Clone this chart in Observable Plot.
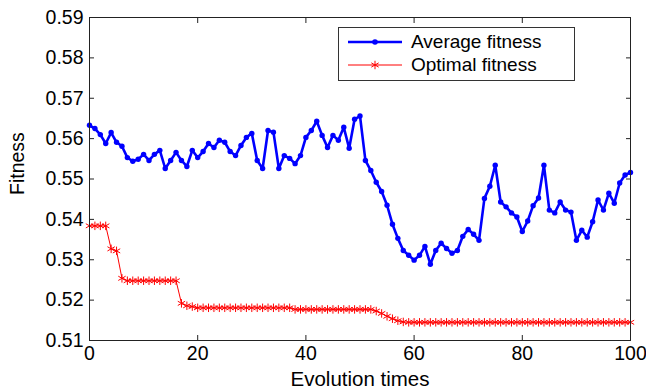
<!DOCTYPE html>
<html><head><meta charset="utf-8">
<script src="https://cdn.jsdelivr.net/npm/d3@7"></script>
<script src="https://cdn.jsdelivr.net/npm/@observablehq/plot@0.6"></script>
<style>
body{margin:0;background:#fff;}
#wrap{position:relative;width:646px;height:391px;overflow:hidden;font-family:"Liberation Sans",Arial,sans-serif;}
#legend{position:absolute;left:338px;top:27px;width:237px;height:54px;border:1px solid #333;background:#fff;box-sizing:border-box;padding-top:2px;}
.row{display:flex;align-items:center;height:23.5px;font-size:19px;color:#000;}
.row svg{margin-left:9px;margin-right:9px;}
</style></head>
<body><div id="wrap"><div id="chart"></div><div id="legend"></div></div>
<script>
const seriesNames = ["Average fitness", "Optimal fitness"];
const averageFitness = [
0.5633,0.5625,0.5610,0.5588,0.5615,0.5591,0.5581,0.5553,0.5544,0.5549,
0.5561,0.5546,0.5561,0.5571,0.5526,0.5546,0.5566,0.5546,0.5531,0.5571,
0.5553,0.5568,0.5588,0.5578,0.5596,0.5591,0.5568,0.5558,0.5583,0.5603,
0.5613,0.5546,0.5526,0.5620,0.5616,0.5526,0.5558,0.5551,0.5538,0.5558,
0.5603,0.5620,0.5643,0.5608,0.5578,0.5608,0.5596,0.5628,0.5576,0.5648,
0.5656,0.5546,0.5521,0.5492,0.5469,0.5435,0.5388,0.5353,0.5323,0.5311,
0.5299,0.5311,0.5333,0.5289,0.5323,0.5341,0.5328,0.5316,0.5323,0.5358,
0.5375,0.5363,0.5348,0.5452,0.5482,0.5534,0.5443,0.5431,0.5416,0.5406,
0.5370,0.5396,0.5434,0.5453,0.5534,0.5423,0.5416,0.5443,0.5423,0.5418,
0.5348,0.5373,0.5356,0.5394,0.5448,0.5423,0.5465,0.5440,0.5490,0.5510,
0.5516];
const optimalFitness = [
0.5384,0.5384,0.5384,0.5384,0.5327,0.5322,0.5254,0.5248,0.5248,0.5248,
0.5248,0.5248,0.5248,0.5248,0.5248,0.5248,0.5248,0.5192,0.5186,0.5184,
0.5181,0.5181,0.5181,0.5181,0.5181,0.5181,0.5181,0.5181,0.5181,0.5181,
0.5181,0.5181,0.5181,0.5181,0.5181,0.5181,0.5181,0.5181,0.5177,0.5177,
0.5177,0.5177,0.5177,0.5177,0.5177,0.5177,0.5177,0.5177,0.5177,0.5177,
0.5177,0.5177,0.5177,0.5173,0.5167,0.5160,0.5154,0.5149,0.5146,0.5145,
0.5145,0.5145,0.5145,0.5145,0.5145,0.5145,0.5145,0.5145,0.5145,0.5145,
0.5145,0.5145,0.5145,0.5145,0.5145,0.5145,0.5145,0.5145,0.5145,0.5145,
0.5145,0.5145,0.5145,0.5145,0.5145,0.5145,0.5145,0.5145,0.5145,0.5145,
0.5145,0.5145,0.5145,0.5145,0.5145,0.5145,0.5145,0.5145,0.5145,0.5145,
0.5145];
const xTicks = [0, 20, 40, 60, 80, 100];
const yTicks = [0.51, 0.52, 0.53, 0.54, 0.55, 0.56, 0.57, 0.58, 0.59];
const xLabel = "Evolution times";
const yLabel = "Fitness";
const colors = ["#0000ff", "#ff0000"];

const avg = averageFitness.map((v, i) => ({t: i, v}));
const opt = optimalFitness.map((v, i) => ({t: i, v}));
const axisColor = "#222";
const fs = 19.5;

const chart = Plot.plot({
  width: 646, height: 391,
  marginLeft: 89, marginRight: 16, marginTop: 17, marginBottom: 51,
  style: {fontFamily: "'Liberation Sans', Arial, sans-serif", color: "#000", background: "#fff", overflow: "visible"},
  x: {domain: [0, 100]},
  y: {domain: [0.51, 0.59]},
  marks: [
    Plot.line(opt, {x: "t", y: "v", stroke: colors[1], strokeWidth: 1}),
    Plot.dot(opt, {x: "t", y: "v", symbol: "asterisk", r: 4, stroke: colors[1], strokeWidth: 1}),
    Plot.line(avg, {x: "t", y: "v", stroke: colors[0], strokeWidth: 2.6}),
    Plot.dot(avg, {x: "t", y: "v", r: 2.7, fill: colors[0], stroke: "none"}),
    Plot.frame({stroke: axisColor, strokeWidth: 1}),
    Plot.axisX({anchor: "bottom", ticks: xTicks, tickSize: -5, fill: "none", color: axisColor, label: null}),
    Plot.axisX({anchor: "top", ticks: xTicks, tickSize: -5, fill: "none", color: axisColor, label: null}),
    Plot.axisY({anchor: "left", ticks: yTicks, tickSize: -5, fill: "none", color: axisColor, label: null}),
    Plot.axisY({anchor: "right", ticks: yTicks, tickSize: -5, fill: "none", color: axisColor, label: null}),
    Plot.axisX({anchor: "bottom", ticks: xTicks, tickSize: 0, tickPadding: 6, stroke: "none", fill: "#000", fontSize: fs, label: null}),
    Plot.axisY({anchor: "left", ticks: yTicks, tickSize: 0, tickPadding: 6, stroke: "none", fill: "#000", fontSize: fs, tickFormat: d3.format(".2f"), label: null}),
    Plot.text([yLabel], {frameAnchor: "left", dx: -72, dy: 16, rotate: -90, fontSize: fs, fill: "#000"}),
    Plot.text([xLabel], {frameAnchor: "bottom", dy: 31, lineAnchor: "top", fontSize: 20.5, fill: "#000"})
  ]
});
document.getElementById("chart").append(chart);

const legend = document.getElementById("legend");
seriesNames.forEach((name, k) => {
  const row = document.createElement("div");
  row.className = "row";
  const ns = "http://www.w3.org/2000/svg";
  const s = document.createElementNS(ns, "svg");
  s.setAttribute("width", 54); s.setAttribute("height", 14);
  const ln = document.createElementNS(ns, "line");
  ln.setAttribute("x1", 0); ln.setAttribute("x2", 54); ln.setAttribute("y1", 7); ln.setAttribute("y2", 7);
  ln.setAttribute("stroke", colors[k]); ln.setAttribute("stroke-width", k === 0 ? 2.6 : 1);
  s.append(ln);
  if (k === 0) {
    const c = document.createElementNS(ns, "circle");
    c.setAttribute("cx", 27); c.setAttribute("cy", 7); c.setAttribute("r", 2.8); c.setAttribute("fill", colors[0]);
    s.append(c);
  } else {
    const p = document.createElementNS(ns, "path");
    p.setAttribute("d", d3.symbol(d3.symbolAsterisk, 50)());
    p.setAttribute("transform", "translate(27,7)");
    p.setAttribute("stroke", colors[1]); p.setAttribute("fill", "none");
    s.append(p);
  }
  row.append(s);
  const t = document.createElement("span");
  t.textContent = name;
  row.append(t);
  legend.append(row);
});
</script></body></html>
